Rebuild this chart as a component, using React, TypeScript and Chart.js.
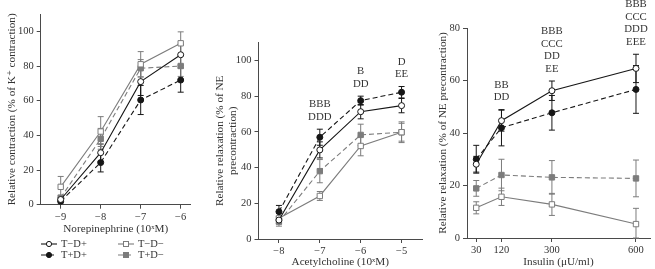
import React, { useEffect, useRef } from "react";
import { Chart, registerables } from "chart.js";

Chart.register(...registerables);

const FONT = "'Liberation Serif', 'DejaVu Serif', serif";
const BLACK = "#161616";
const GRAY = "#7c7c7c";
const AXIS = "#4a4a4a";
const TEXT = "#333333";
const TITLE_SIZE = 11.2;

const seriesNames = ["T−D+", "T−D−", "T+D+", "T+D−"];

// Panel 1: Norepinephrine
const neDoses = [-9, -8, -7, -6];
const neTickLabels = ["−9", "−8", "−7", "−6"];
const neTmDp = [3, 30, 71, 86.5];
const neTmDpErr = [1, 5, 8, 6];
const neTmDm = [10.3, 42.2, 81, 93.1];
const neTmDmErr = [6, 8.6, 7.3, 6.6];
const neTpDp = [2, 24.3, 60.4, 71.9];
const neTpDpErr = [1, 5.4, 8.4, 7];
const neTpDm = [4, 38, 78.7, 80];
const neTpDmErr = [1.5, 6, 5, 6];

// Panel 2: Acetylcholine
const achDoses = [-8, -7, -6, -5];
const achTickLabels = ["−8", "−7", "−6", "−5"];
const achTmDp = [10.6, 49.9, 71.3, 74.7];
const achTmDpErr = [2, 4.5, 4, 4];
const achTmDm = [11.6, 24.1, 52.1, 59.8];
const achTmDmErr = [3, 2.5, 5.5, 5];
const achTpDp = [15.3, 57, 77.5, 82.2];
const achTpDpErr = [3.5, 4.5, 2.5, 3.2];
const achTpDm = [9.7, 38, 58.3, 59.8];
const achTpDmErr = [2.5, 6.5, 6, 5.8];
const achAnnX = [-7, -6, -5];
const achAnnText = [["BBB", "DDD"], ["B", "DD"], ["D", "EE"]];

// Panel 3: Insulin
const insDoses = [30, 120, 300, 600];
const insTickLabels = ["30", "120", "300", "600"];
const insTmDp = [28.1, 44.7, 56.1, 64.6];
const insTmDpErr = [3, 4, 3.7, 5.4];
const insTmDm = [11.5, 15.7, 12.8, 5.3];
const insTmDmErr = [2.3, 3.3, 4.2, 6];
const insTpDp = [30, 42, 47.7, 56.6];
const insTpDpErr = [5.3, 6.9, 6.6, 9.1];
const insTpDm = [18.9, 24, 23.1, 22.7];
const insTpDmErr = [3, 6, 6.4, 7];
const insAnnX = [120, 300, 600];
const insAnnText = [["BB", "DD"], ["BBB", "CCC", "DD", "EE"], ["BBB", "CCC", "DDD", "EEE"]];

const yTicks100 = [0, 20, 40, 60, 80, 100];
const yTicks80 = [0, 20, 40, 60, 80];

const styles = [
  { color: BLACK, dash: [] as number[], point: "circle", fill: "#ffffff", r: 3 },
  { color: GRAY, dash: [] as number[], point: "rect", fill: "#ffffff", r: 3.8 },
  { color: BLACK, dash: [5, 3], point: "circle", fill: BLACK, r: 3 },
  { color: GRAY, dash: [5, 3], point: "rect", fill: GRAY, r: 3.8 },
];

function makeDatasets(xs: number[], vals: number[][], errs: number[][]) {
  return vals.map((v, i) => ({
    label: seriesNames[i],
    data: v.map((y, j) => ({ x: xs[j], y })),
    errorBars: errs[i],
    borderColor: styles[i].color,
    backgroundColor: styles[i].fill,
    borderWidth: 1.1,
    borderDash: styles[i].dash,
    pointStyle: styles[i].point,
    pointRadius: styles[i].r,
    pointBorderWidth: 1,
    pointBorderColor: styles[i].color,
    pointBackgroundColor: styles[i].fill,
    fill: false,
    tension: 0,
    clip: false,
  }));
}

const errorBarPlugin = {
  id: "errorBars",
  beforeDatasetsDraw(chart: any) {
    const ctx = chart.ctx;
    const xs = chart.scales.x;
    const ys = chart.scales.y;
    chart.data.datasets.forEach((ds: any) => {
      ctx.save();
      ctx.strokeStyle = ds.borderColor;
      ctx.lineWidth = 1;
      ctx.setLineDash([]);
      ds.data.forEach((pt: any, j: number) => {
        const e = ds.errorBars[j];
        const px = xs.getPixelForValue(pt.x);
        const top = ys.getPixelForValue(pt.y + e);
        const bot = ys.getPixelForValue(Math.max(pt.y - e, ys.min));
        ctx.beginPath();
        ctx.moveTo(px, top);
        ctx.lineTo(px, bot);
        ctx.moveTo(px - 3, top);
        ctx.lineTo(px + 3, top);
        ctx.moveTo(px - 3, bot);
        ctx.lineTo(px + 3, bot);
        ctx.stroke();
      });
      ctx.restore();
    });
  },
};

function annotationPlugin(xv: number[], lines: string[][]) {
  return {
    id: "sigAnnot",
    afterDatasetsDraw(chart: any) {
      const ctx = chart.ctx;
      ctx.save();
      ctx.font = `10.8px ${FONT}`;
      ctx.textAlign = "center";
      ctx.textBaseline = "middle";
      ctx.fillStyle = TEXT;
      xv.forEach((x, k) => {
        let maxTop = -Infinity;
        chart.data.datasets.forEach((ds: any) =>
          ds.data.forEach((pt: any, j: number) => {
            if (pt.x === x) maxTop = Math.max(maxTop, pt.y + ds.errorBars[j]);
          })
        );
        const px = chart.scales.x.getPixelForValue(x);
        const base = chart.scales.y.getPixelForValue(maxTop) - 12;
        const L = lines[k];
        L.forEach((t, m) => ctx.fillText(t, px, base - (L.length - 1 - m) * 12.6));
      });
      ctx.restore();
    },
  };
}

const legendPlugin = {
  id: "gridLegend",
  afterDraw(chart: any) {
    const ctx = chart.ctx;
    const colX = [41, 118];
    const rowY = [244, 255];
    chart.data.datasets.forEach((ds: any, i: number) => {
      const x0 = colX[i % 2];
      const y0 = rowY[Math.floor(i / 2)];
      ctx.save();
      ctx.strokeStyle = ds.borderColor;
      ctx.lineWidth = 1.1;
      ctx.setLineDash(ds.borderDash);
      ctx.beginPath();
      ctx.moveTo(x0, y0);
      ctx.lineTo(x0 + 16, y0);
      ctx.stroke();
      ctx.setLineDash([]);
      ctx.lineWidth = 1;
      ctx.fillStyle = ds.pointBackgroundColor;
      const cx = x0 + 8;
      if (ds.pointStyle === "circle") {
        ctx.beginPath();
        ctx.arc(cx, y0, 2.6, 0, Math.PI * 2);
        ctx.fill();
        ctx.stroke();
      } else {
        ctx.fillRect(cx - 2.5, y0 - 2.5, 5, 5);
        ctx.strokeRect(cx - 2.5, y0 - 2.5, 5, 5);
      }
      ctx.font = `10.5px ${FONT}`;
      ctx.fillStyle = TEXT;
      ctx.textAlign = "left";
      ctx.textBaseline = "middle";
      ctx.fillText(ds.label, x0 + 20, y0 + 0.5);
      ctx.restore();
    });
  },
};

type Panel = {
  left: number;
  width: number;
  padTop: number;
  padRight: number;
  padBottom: number;
  yWidth: number;
  xHeight: number;
  xMin: number;
  xMax: number;
  xVals: number[];
  xLabels: string[];
  yMax: number;
  yVals: number[];
  xTitle: string;
  xTitlePad: number;
  yTitle: string | string[];
  yTitlePad: number;
  yTitleLine: number;
  datasets: any[];
  plugins: any[];
};

function buildConfig(p: Panel): any {
  const tickFont = { family: FONT, size: 10.5 };
  return {
    type: "line",
    data: { datasets: p.datasets },
    options: {
      animation: false,
      responsive: false,
      maintainAspectRatio: false,
      layout: { padding: { left: 0, right: p.padRight, top: p.padTop, bottom: p.padBottom } },
      plugins: { legend: { display: false }, tooltip: { enabled: false } },
      scales: {
        x: {
          type: "linear",
          min: p.xMin,
          max: p.xMax,
          afterBuildTicks: (ax: any) => {
            ax.ticks = p.xVals.map((v) => ({ value: v }));
          },
          afterFit: (ax: any) => {
            ax.height = p.xHeight;
          },
          ticks: {
            autoSkip: false,
            maxRotation: 0,
            padding: 2,
            color: TEXT,
            font: tickFont,
            callback: (v: number) => {
              const i = p.xVals.indexOf(v);
              return i >= 0 ? p.xLabels[i] : "";
            },
          },
          grid: { display: true, drawOnChartArea: false, drawTicks: true, tickLength: 4, color: AXIS },
          border: { display: true, color: AXIS, width: 1 },
          title: {
            display: true,
            text: p.xTitle,
            color: TEXT,
            font: { family: FONT, size: TITLE_SIZE, lineHeight: 1.2 },
            padding: { top: 0, bottom: p.xTitlePad },
          },
        },
        y: {
          type: "linear",
          min: 0,
          max: p.yMax,
          afterBuildTicks: (ax: any) => {
            ax.ticks = p.yVals.map((v) => ({ value: v }));
          },
          afterFit: (ax: any) => {
            ax.width = p.yWidth;
          },
          ticks: {
            padding: 3,
            color: TEXT,
            font: tickFont,
            callback: (v: number) => String(v),
          },
          grid: { display: true, drawOnChartArea: false, drawTicks: true, tickLength: 4, color: AXIS },
          border: { display: true, color: AXIS, width: 1 },
          title: {
            display: true,
            text: p.yTitle,
            color: TEXT,
            font: { family: FONT, size: TITLE_SIZE, lineHeight: p.yTitleLine },
            padding: { top: p.yTitlePad, bottom: 0 },
          },
        },
      },
    },
    plugins: p.plugins,
  };
}

const panels: Panel[] = [
  {
    left: 0,
    width: 212,
    padTop: 14,
    padRight: 21.3,
    padBottom: 30,
    yWidth: 40.7,
    xHeight: 34.3,
    xMin: -9.5,
    xMax: -5.75,
    xVals: neDoses,
    xLabels: neTickLabels,
    yMax: 110,
    yVals: yTicks100,
    xTitle: "Norepinephrine (10ˣM)",
    xTitlePad: 3.3,
    yTitle: "Relative contraction (% of K⁺ contraction)",
    yTitlePad: 5.3,
    yTitleLine: 1.2,
    datasets: makeDatasets(
      neDoses,
      [neTmDp, neTmDm, neTpDp, neTpDm],
      [neTmDpErr, neTmDmErr, neTpDpErr, neTpDmErr]
    ),
    plugins: [errorBarPlugin, legendPlugin],
  },
  {
    left: 212,
    width: 220,
    padTop: 42.6,
    padRight: 10,
    padBottom: 0,
    yWidth: 46.5,
    xHeight: 30,
    xMin: -8.5,
    xMax: -4.5,
    xVals: achDoses,
    xLabels: achTickLabels,
    yMax: 110,
    yVals: yTicks100,
    xTitle: "Acetylcholine (10ˣM)",
    xTitlePad: 0,
    yTitle: ["Relative relaxation (% of NE", "precontraction)"],
    yTitlePad: 1.5,
    yTitleLine: 1.16,
    datasets: makeDatasets(
      achDoses,
      [achTmDp, achTmDm, achTpDp, achTpDm],
      [achTmDpErr, achTmDmErr, achTpDpErr, achTpDmErr]
    ),
    plugins: [errorBarPlugin, annotationPlugin(achAnnX, achAnnText)],
  },
  {
    left: 432,
    width: 223,
    padTop: 28,
    padRight: 0,
    padBottom: 0,
    yWidth: 35,
    xHeight: 31,
    xMin: -3,
    xMax: 650,
    xVals: insDoses,
    xLabels: insTickLabels,
    yMax: 80,
    yVals: yTicks80,
    xTitle: "Insulin (μU/ml)",
    xTitlePad: 0,
    yTitle: "Relative relaxation (% of NE precontraction)",
    yTitlePad: 4.3,
    yTitleLine: 1.2,
    datasets: makeDatasets(
      insDoses,
      [insTmDp, insTmDm, insTpDp, insTpDm],
      [insTmDpErr, insTmDmErr, insTpDpErr, insTpDmErr]
    ),
    plugins: [errorBarPlugin, annotationPlugin(insAnnX, insAnnText)],
  },
];

function PanelChart({ panel }: { panel: Panel }) {
  const ref = useRef<HTMLCanvasElement | null>(null);
  useEffect(() => {
    if (!ref.current) return;
    const chart = new Chart(ref.current, buildConfig(panel));
    return () => chart.destroy();
  }, [panel]);
  return (
    <canvas
      ref={ref}
      width={panel.width}
      height={269}
      style={{ position: "absolute", left: panel.left, top: 0, width: panel.width, height: 269 }}
    />
  );
}

export default function App() {
  return (
    <div style={{ position: "absolute", left: 0, top: 0, width: 655, height: 269, background: "#ffffff", overflow: "hidden" }}>
      {panels.map((p, i) => (
        <PanelChart key={i} panel={p} />
      ))}
    </div>
  );
}
